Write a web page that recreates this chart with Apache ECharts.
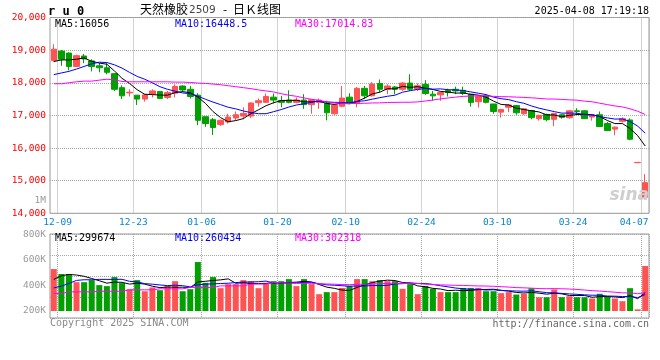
<!DOCTYPE html>
<html><head><meta charset="utf-8">
<script src="https://cdn.jsdelivr.net/npm/echarts/dist/echarts.min.js"></script>
<style>html,body{margin:0;padding:0;background:#fff}#c{width:660px;height:360px}</style>
</head><body><div id="c"></div>
<script>
const dates = ['12-06','12-09','12-10','12-11','12-12','12-13','12-16','12-17','12-18','12-19','12-20','12-23','12-24','12-25','12-26','12-27','12-30','12-31',
'01-02','01-03','01-06','01-07','01-08','01-09','01-10','01-13','01-14','01-15','01-16','01-17','01-20','01-21','01-22','01-23','01-24','01-27',
'02-05','02-06','02-07','02-10','02-11','02-12','02-13','02-14','02-17','02-18','02-19','02-20','02-21','02-24','02-25','02-26','02-27','02-28',
'03-03','03-04','03-05','03-06','03-07','03-10','03-11','03-12','03-13','03-14','03-17','03-18','03-19','03-20','03-21','03-24','03-25','03-26','03-27','03-28','03-31',
'04-01','04-02','04-03','04-07'];
const tickDates = ['12-09','12-23','01-06','01-20','02-10','02-24','03-10','03-24','04-07'];
const priceTicks = [14000, 20000, 1000];
const volTicks = [200000, 800000, 200000];

const open  = [18680,18970,18910,18500,18820,18670,18520,18460,18280,17850,17690,17620,17500,17650,17730,17550,17680,17900,17800,17620,16960,16870,16720,16800,16920,16980,16980,17390,17400,17560,17460,17470,17400,17470,17330,17400,17370,17050,17280,17560,17370,17830,17600,17980,17800,17870,17800,17990,17800,17950,17650,17630,17770,17800,17770,17650,17420,17600,17350,17100,17250,17300,17050,17150,16900,17030,16880,17020,16930,17140,17140,16950,17020,16750,16580,16820,16860,15550,14490];
const close = [19030,18720,18500,18830,18730,18500,18460,18320,17800,17600,17710,17500,17630,17750,17520,17700,17890,17780,17580,16850,16750,16630,16850,16950,17020,17060,17380,17450,17580,17470,17400,17400,17470,17330,17480,17470,17080,17320,17530,17370,17830,17600,17960,17800,17900,17800,17990,17800,17910,17670,17600,17700,17700,17750,17680,17400,17580,17400,17120,17180,17320,17080,17200,16930,17000,16870,17060,16940,17140,17120,16900,17010,16660,16535,16640,16900,16270,15560,14940];
const low   = [18650,18520,18380,18480,18600,18350,18320,18260,17750,17500,17580,17320,17420,17550,17500,17500,17550,17720,17520,16700,16650,16400,16680,16750,16850,16880,16920,17270,17400,17370,17250,17370,17370,17200,17050,17200,16850,17020,17250,17350,17250,17500,17580,17700,17650,17650,17750,17750,17750,17630,17450,17450,17580,17650,17620,17270,17240,17370,17050,16930,17100,17020,17020,16880,16840,16820,16670,16900,16900,17020,16900,16840,16640,16520,16390,16780,16240,15550,14490];
const high  = [19180,19000,18930,18860,18880,18720,18600,18600,18300,17920,17800,17620,17650,17800,17750,17750,17950,17920,17900,17680,16960,16920,16870,17050,17120,17250,17400,17520,17670,17670,17600,17770,17550,17650,17500,17520,17450,17350,17900,17680,17870,17900,18020,18100,17950,17900,18020,18260,17980,18080,17750,17730,17820,17880,17880,17650,17620,17650,17350,17200,17350,17320,17220,17170,17020,17050,17080,17040,17160,17220,17160,17040,17120,16800,16660,16940,16910,15560,15200];
const volume = [529,490,490,426,426,442,403,395,466,419,371,442,355,385,363,395,434,355,371,584,421,466,379,411,411,442,434,379,419,434,434,450,395,450,411,332,348,348,381,397,450,450,434,442,434,434,374,411,332,397,374,348,348,348,381,381,381,355,355,340,348,329,335,379,308,308,369,308,316,308,308,298,335,316,298,277,379,213,553].map(v => v * 1000);

// moving-average values for the first days (their windows start before the chart)
const ma5Head  = [18650,18700,18700,18720];
const ma10Head = [18250,18300,18350,18420,18500,18580,18630,18620,18550];
const ma30Head = [17970,17970,18000,18030,18050,18050,18080,18110,18090,18040,18030,18030,18030,18030,18030,18030,18020,18020,18010,17990,17980,17960,17940,17910,17880,17850,17820,17780,17750];
const vma5Head  = [448,476,487,482].map(v => v * 1000);
const vma10Head = [381,395,416,440,445,445,448,448,448].map(v => v * 1000);
const vma30Head = [337,337,350,350,350,350,355,355,355,355,366,366,366,366,374,374,374,374,385,385,385,385,397,397,397,397,411,411,411].map(v => v * 1000);

const legendMain = ['MA5:16056', 'MA10:16448.5', 'MA30:17014.83'];
const legendVol = ['MA5:299674', 'MA10:260434', 'MA30:302318'];

function movingAvg(vals, n, head) {
  return vals.map((v, i) => {
    if (i < n - 1) return head[i];
    let s = 0; for (let k = i - n + 1; k <= i; k++) s += vals[k];
    return +(s / n).toFixed(2);
  });
}

const UP = '#ff5353', DOWN = '#00a000';
const MONO = '"DejaVu Sans Mono", "Liberation Mono", monospace';
const ohlc = dates.map((d, i) => [open[i], close[i], low[i], high[i]]);
const volData = volume.map((v, i) => ({ value: v, itemStyle: { color: close[i] >= open[i] ? UP : DOWN } }));
const tickSet = new Set(tickDates);
const lastDate = dates[dates.length - 1];
const showTick = (idx, val) => tickSet.has(val);
const dotted = { show: true, interval: showTick, lineStyle: { type: 'dotted', color: '#a8a8a8', width: 1 } };

const chart = echarts.init(document.getElementById('c'), null, { renderer: 'canvas' });
const lineS = (name, data, color, xi, yi) => ({ name, type: 'line', data, xAxisIndex: xi, yAxisIndex: yi, symbol: 'none', z: 5,
  lineStyle: { color, width: 1 }, itemStyle: { color }, animation: false });

function txt(text, x, y, color, font, align) {
  return { type: 'text', x, y, z: 100, silent: true,
    style: { text, fill: color, font: font || ('10px ' + MONO), textAlign: align || 'left', align: align || 'left', textVerticalAlign: 'middle', verticalAlign: 'middle' } };
}
const CJK = '12px "Noto Sans CJK SC"';

chart.setOption({
  animation: false,
  backgroundColor: '#fff',
  grid: [
    { left: 50, right: 11, top: 17.5, bottom: 146.7, show: true, borderColor: '#999', borderWidth: 1 },
    { left: 50, right: 11, top: 234.5, bottom: 49, show: false },
    { left: 50, right: 11, top: 234, bottom: 42, show: true, borderColor: '#999', borderWidth: 1 }
  ],
  xAxis: [
    { type: 'category', gridIndex: 0, data: dates, boundaryGap: true,
      axisLine: { show: false }, axisTick: { show: false }, splitLine: dotted,
      axisLabel: { interval: showTick, color: '#0a84d0', fontFamily: MONO, fontSize: 9.5, margin: 4, padding: [0, 7.6, 0, 0],
        formatter: v => v === lastDate ? '{e|' + v + '}' : v,
        rich: { e: { padding: [0, 14.6, 0, 0], color: '#0a84d0', fontFamily: MONO, fontSize: 9.5 } } } },
    { type: 'category', gridIndex: 1, data: dates, boundaryGap: true, show: false },
    { type: 'category', gridIndex: 2, data: dates, boundaryGap: true,
      axisLine: { show: false }, axisTick: { show: false }, axisLabel: { show: false }, splitLine: dotted }
  ],
  yAxis: [
    { type: 'value', gridIndex: 0, min: priceTicks[0], max: priceTicks[1], interval: priceTicks[2],
      axisLine: { show: false }, axisTick: { show: false },
      splitLine: { lineStyle: { type: 'dotted', color: '#a8a8a8' } },
      axisLabel: { color: '#ff0000', fontFamily: MONO, fontSize: 9.5, margin: 4 } },
    { type: 'value', gridIndex: 1, min: volTicks[0], max: volTicks[1], interval: volTicks[2],
      axisLine: { show: false }, axisTick: { show: false }, splitLine: { show: false },
      axisLabel: { color: '#9a9a9a', fontFamily: MONO, fontSize: 9.5, margin: 4, formatter: v => (v / 1000) + 'K' } },
    { type: 'value', gridIndex: 2, min: 0, max: 4, interval: 1,
      axisLine: { show: false }, axisTick: { show: false }, axisLabel: { show: false },
      splitLine: { lineStyle: { type: 'dotted', color: '#a8a8a8' } } }
  ],
  series: [
    { type: 'candlestick', xAxisIndex: 0, yAxisIndex: 0, data: ohlc, barWidth: 6, z: 3,
      itemStyle: { color: UP, color0: DOWN, borderColor: UP, borderColor0: DOWN, borderWidth: 1 } },
    lineS('MA5', movingAvg(close, 5, ma5Head), '#000000', 0, 0),
    lineS('MA10', movingAvg(close, 10, ma10Head), '#0000ff', 0, 0),
    lineS('MA30', movingAvg(close, 30, ma30Head), '#ff00ff', 0, 0),
    { type: 'bar', xAxisIndex: 1, yAxisIndex: 1, data: volData, barWidth: 6, z: 3 },
    lineS('VMA5', movingAvg(volume, 5, vma5Head), '#000000', 1, 1),
    lineS('VMA10', movingAvg(volume, 10, vma10Head), '#0000ff', 1, 1),
    lineS('VMA30', movingAvg(volume, 30, vma30Head), '#ff00ff', 1, 1)
  ],
  graphic: [
    txt('r u 0', 48, 12, '#000', 'bold 12px ' + MONO),
    txt('天然橡胶', 140, 9.5, '#000', CJK),
    txt('2509', 189, 10, '#444', '10.5px "DejaVu Sans"'),
    txt('-', 225, 9.5, '#000', CJK, 'center'),
    txt('日Ｋ线图', 233, 9.5, '#000', CJK),
    txt('2025-04-08 17:19:18', 649, 11.7, '#000', null, 'right'),
    txt(legendMain[0], 55, 24, '#000'),
    txt(legendMain[1], 175, 24, '#0000ee'),
    txt(legendMain[2], 295, 24, '#ff00ff'),
    txt(legendVol[0], 55, 238.5, '#000'),
    txt(legendVol[1], 175, 238.5, '#0000ee'),
    txt(legendVol[2], 295, 238.5, '#ff00ff'),
    txt('1M', 46, 200.7, '#9a9a9a', '9.5px ' + MONO, 'right'),
    txt('sina', 649, 196, '#cfcfcf', 'italic bold 17px "DejaVu Sans"', 'right'),
    txt('Copyright 2025 SINA.COM', 50, 323.7, '#8a8a8a'),
    txt('http://finance.sina.com.cn', 649, 324, '#666', null, 'right')
  ]
});
</script></body></html>
